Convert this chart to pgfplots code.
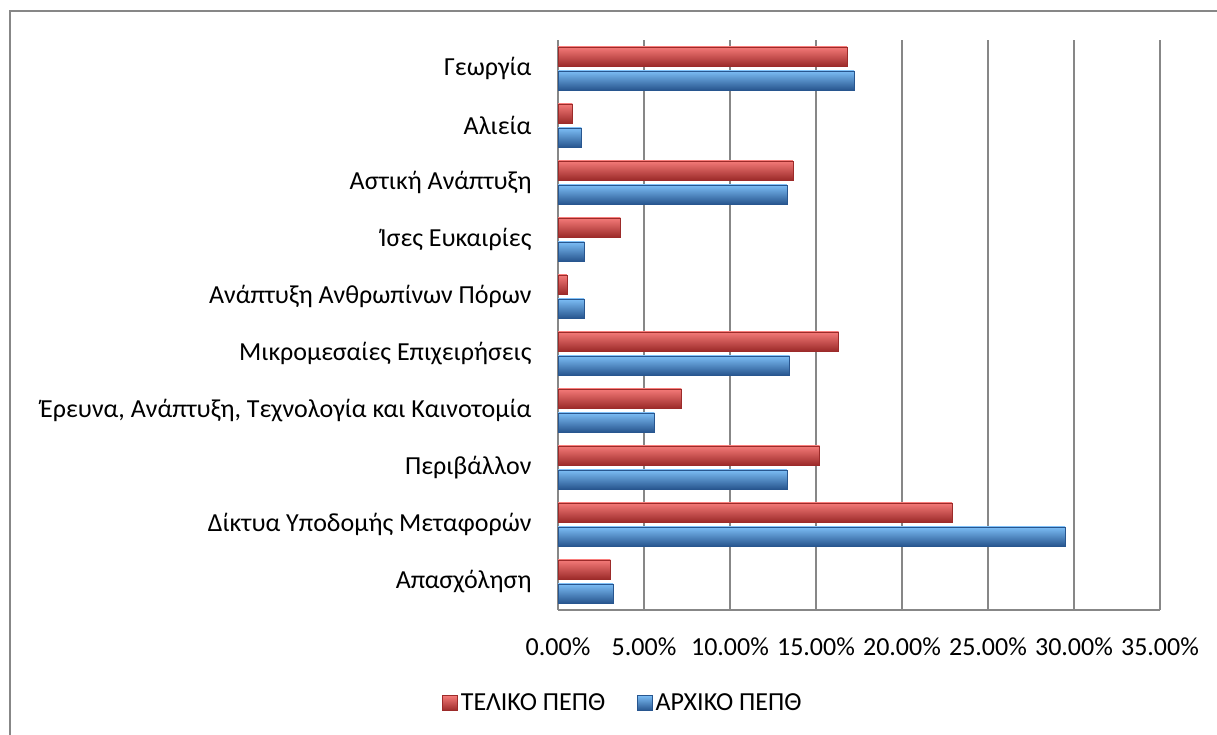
\documentclass[border=0pt]{standalone}
\usepackage{pgfplots}
\usepackage{pgfplotstable}
\pgfplotsset{compat=1.18}
\usepackage{fontspec}
\setmainfont{Carlito}
\definecolor{gridgray}{HTML}{878787}
\definecolor{redtop}{HTML}{F47A78}
\definecolor{redmid}{HTML}{D63E3C}
\definecolor{redbot}{HTML}{9C2B2A}
\definecolor{bluetop}{HTML}{7CBDF5}
\definecolor{bluemid}{HTML}{3F84D4}
\definecolor{bluebot}{HTML}{28568F}
\pgfplotstableread{
idx red blue
0 3.04 3.20
1 22.91 29.48
2 15.21 13.30
3 7.18 5.60
4 16.31 13.46
5 0.52 1.52
6 3.63 1.53
7 13.66 13.31
8 0.84 1.36
9 16.81 17.21
}\datatable
\tikzset{
  redbar/.style={draw=redbot, top color=redtop, middle color=redmid, bottom color=redbot},
  bluebar/.style={draw=bluebot, top color=bluetop, middle color=bluemid, bottom color=bluebot},
}
\begin{document}
\begin{tikzpicture}[x=1pt,y=1pt]
\path[use as bounding box] (0,0) rectangle (1217,735);
\draw[gridgray, line width=1.5pt] (10,0) -- (10,724) -- (1217,724);
\begin{axis}[
  at={(558pt,125pt)}, anchor=south west,
  scale only axis, width=602pt, height=570pt,
  xmin=0, xmax=35, ymin=-0.5, ymax=9.5,
  xbar, bar width=19pt,
  xtick={0,5,10,15,20,25,30,35},
  xticklabels={0.00\%,5.00\%,10.00\%,15.00\%,20.00\%,25.00\%,30.00\%,35.00\%},
  ytick={0,1,2,3,4,5,6,7,8,9},
  yticklabels={Απασχόληση, Δίκτυα Υποδομής Μεταφορών, Περιβάλλον, {Έρευνα, Ανάπτυξη, Τεχνολογία και Καινοτομία}, Μικρομεσαίες Επιχειρήσεις, Ανάπτυξη Ανθρωπίνων Πόρων, Ίσες Ευκαιρίες, Αστική Ανάπτυξη, Αλιεία, Γεωργία},
  xmajorgrids, major grid style={gridgray, line width=1.5pt},
  axis x line*=bottom, axis y line*=left,
  axis line style={gridgray, line width=1.5pt, -},
  major tick length=0pt,
  tick label style={font=\fontsize{26}{30}\selectfont, text=black},
  yticklabel style={xshift=-23pt},
  xticklabel style={yshift=-24pt},
  legend style={at={(0.108,-0.163)}, anchor=center, draw=none, fill=none,
    font=\fontsize{26}{30}\selectfont, legend columns=2,
    /tikz/every odd column/.append style={column sep=1pt},
    /tikz/every even column/.append style={column sep=30pt}},
  legend image code/.code={\path[#1] (0pt,-7.5pt) rectangle (15pt,7.5pt);},
]
\pgfplotsinvokeforeach{0,...,9}{
  \addplot[forget plot, bar shift=12pt, redbar, restrict y to domain=#1:#1] table[x=red, y=idx] {\datatable};
  \addplot[forget plot, bar shift=-12pt, bluebar, restrict y to domain=#1:#1] table[x=blue, y=idx] {\datatable};
}
\addlegendimage{redbar}
\addlegendentry{ΤΕΛΙΚΟ ΠΕΠΘ}
\addlegendimage{bluebar}
\addlegendentry{ΑΡΧΙΚΟ ΠΕΠΘ}
\end{axis}
\end{tikzpicture}
\end{document}
